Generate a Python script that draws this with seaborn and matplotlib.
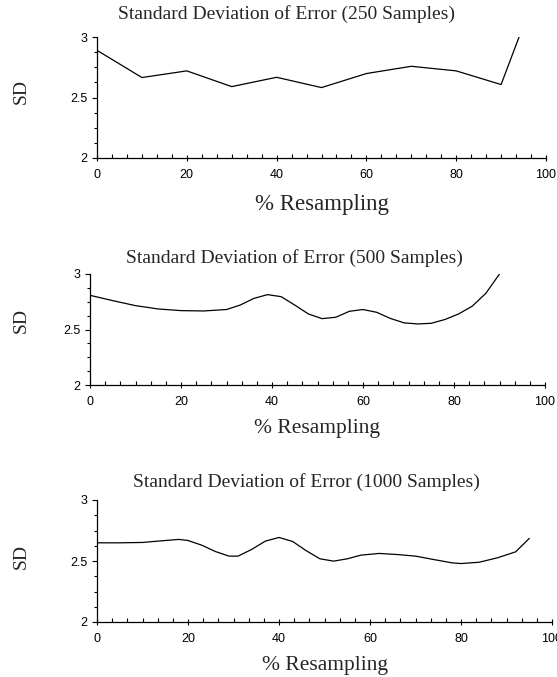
import matplotlib
matplotlib.use("Agg")
import matplotlib.pyplot as plt
from matplotlib.ticker import AutoMinorLocator
import seaborn as sns
import pandas as pd

# Resampling percentage (x) and standard deviation of error (y) per sample size
pct_250 = [0, 10, 20, 30, 40, 50, 60, 70, 80, 90, 94]
sd_250 = [2.89, 2.665, 2.72, 2.59, 2.667, 2.582, 2.698, 2.758, 2.72, 2.607, 3.0]

pct_500 = [0, 5, 10, 15, 20, 25, 30, 33, 36, 39, 42, 45, 48, 51, 54, 57, 60,
           63, 66, 69, 72, 75, 78, 81, 84, 87, 90]
sd_500 = [2.808, 2.76, 2.715, 2.685, 2.67, 2.667, 2.68, 2.72, 2.78, 2.814,
          2.796, 2.72, 2.64, 2.598, 2.61, 2.664, 2.68, 2.655, 2.60, 2.56,
          2.55, 2.556, 2.59, 2.64, 2.71, 2.826, 3.0]

pct_1000 = [0, 5, 10, 15, 18, 20, 23, 26, 29, 31, 34, 37, 40, 43, 46, 49, 52,
            55, 58, 62, 66, 70, 74, 78, 80, 84, 88, 92, 95]
sd_1000 = [2.649, 2.649, 2.652, 2.668, 2.677, 2.668, 2.63, 2.578, 2.54, 2.54,
           2.595, 2.663, 2.693, 2.66, 2.584, 2.518, 2.499, 2.518, 2.548, 2.562,
           2.553, 2.54, 2.512, 2.485, 2.479, 2.49, 2.526, 2.575, 2.685]

titles = ["Standard Deviation of Error (250 Samples)",
          "Standard Deviation of Error (500 Samples)",
          "Standard Deviation of Error (1000 Samples)"]
x_label = "% Resampling"
y_label = "SD"
x_ticks = [0, 20, 40, 60, 80, 100]
y_ticks = [2, 2.5, 3]
y_ticklabels = ["2", "2.5", "3"]

sns.set_style("ticks")
plt.rcParams["font.family"] = ["Liberation Sans", "DejaVu Sans"]

W, H = 557, 677
fig = plt.figure(figsize=(W / 100, H / 100), dpi=100)

# axes boxes in pixels: left, right, top, bottom
boxes = [(97, 546, 37, 158), (90, 545, 274, 385), (97, 552, 500, 622)]
title_pos = [(286, 14), (294, 258), (306, 482)]
ylabel_y = [0.55, 0.58, 0.54]
xlabel_pad = [9.5, 7.5, 7.5]
xlabel_size = [16.5, 15.5, 15.5]
serif = ["Liberation Serif", "DejaVu Serif"]

series = [(pct_250, sd_250), (pct_500, sd_500), (pct_1000, sd_1000)]

for i, ((l, r, t, b), (xs, ys)) in enumerate(zip(boxes, series)):
    ax = fig.add_axes([l / W, 1 - b / H, (r - l) / W, (b - t) / H])
    df = pd.DataFrame({"pct": xs, "sd": ys})
    sns.lineplot(data=df, x="pct", y="sd", ax=ax, color="black",
                 linewidth=0.9, estimator=None, sort=False)
    ax.set_xlim(0, 100)
    ax.set_ylim(2, 3)
    ax.set_xticks(x_ticks)
    ax.set_xticklabels([str(v) for v in x_ticks])
    ax.set_yticks(y_ticks)
    ax.set_yticklabels(y_ticklabels)
    ax.xaxis.set_minor_locator(AutoMinorLocator(6))
    ax.yaxis.set_minor_locator(AutoMinorLocator(4))
    for s in ["top", "right"]:
        ax.spines[s].set_visible(False)
    for s in ["left", "bottom"]:
        ax.spines[s].set_linewidth(0.9)
        ax.spines[s].set_color("black")
    ax.tick_params(axis="x", which="major", direction="inout", length=5,
                   width=0.8, labelsize=9, pad=5.5, colors="black")
    ax.tick_params(axis="x", which="minor", direction="in", length=3,
                   width=0.8, colors="black")
    ax.tick_params(axis="y", which="major", direction="out", length=3.5,
                   width=0.8, labelsize=9, pad=3.5, colors="black")
    ax.tick_params(axis="y", which="minor", direction="out", length=2.5,
                   width=0.8, colors="black")
    ax.set_facecolor("white")

    ax.set_ylabel(y_label, family=serif, fontsize=14, labelpad=0)
    ax.yaxis.set_label_coords((30 - l) / (r - l), ylabel_y[i])
    ax.set_xlabel(x_label, family=serif, fontsize=xlabel_size[i],
                  labelpad=xlabel_pad[i])

    tx, ty = title_pos[i]
    fig.text(tx / W, 1 - ty / H, titles[i], family=serif, fontsize=14,
             ha="center", va="center")

fig.savefig("out.png", dpi=100, facecolor="white")
